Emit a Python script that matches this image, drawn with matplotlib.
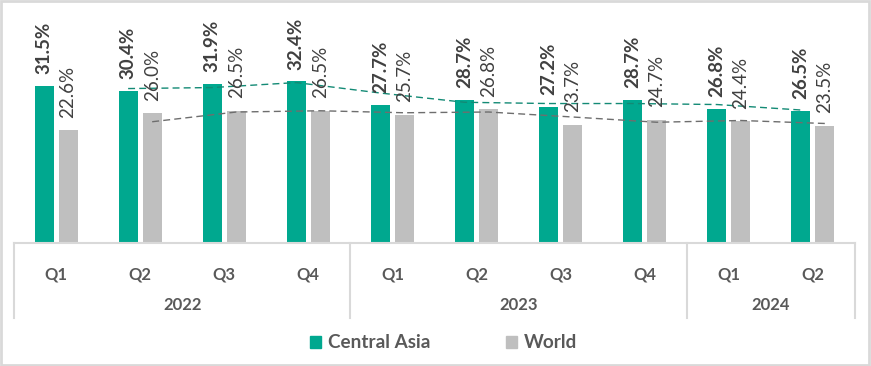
import numpy as np
import matplotlib.pyplot as plt
from matplotlib.patches import Rectangle, Patch
from matplotlib.transforms import blended_transform_factory

plt.rcParams['font.family'] = ['Lato', 'DejaVu Sans']

quarters = ['Q1', 'Q2', 'Q3', 'Q4', 'Q1', 'Q2', 'Q3', 'Q4', 'Q1', 'Q2']
years = ['2022', '2023', '2024']
year_spans = [(0, 3), (4, 7), (8, 9)]
central_asia = [31.5, 30.4, 31.9, 32.4, 27.7, 28.7, 27.2, 28.7, 26.8, 26.5]
world = [22.6, 26.0, 26.5, 26.5, 25.7, 26.8, 23.7, 24.7, 24.4, 23.5]

green = '#00A88F'
grey = '#BFBFBF'
txt = '#404040'
axis_col = '#D9D9D9'

W, H = 871, 366
fig = plt.figure(figsize=(W / 100, H / 100), dpi=100)
ax = fig.add_axes([14 / W, (H - 243) / H, (855 - 14) / W, (243 - 5) / H])

x = np.arange(len(quarters))
bw = 0.226
off = 0.143
ca = np.array(central_asia)
wo = np.array(world)

ax.bar(x - off, ca, bw, color=green, zorder=2)
ax.bar(x + off, wo, bw, color=grey, zorder=2)

# 2-period moving average trendlines
ax.plot(x[1:] - off, (ca[1:] + ca[:-1]) / 2, color='#138A75', lw=1,
        ls=(0, (5, 3)), zorder=3)
ax.plot(x[1:] + off, (wo[1:] + wo[:-1]) / 2, color='#6E6E6E', lw=1,
        ls=(0, (5, 3)), zorder=3)

for xi, v in zip(x, ca):
    ax.annotate(f'{v:.1f}%', (xi - off, v), xytext=(0, 8.5), textcoords='offset points',
                rotation=90, ha='center', va='bottom', fontsize=13.5,
                fontweight='bold', color=txt, zorder=4)
for xi, v in zip(x, wo):
    ax.annotate(f'{v:.1f}%', (xi + off, v), xytext=(0, 9), textcoords='offset points',
                rotation=90, ha='center', va='bottom', fontsize=13.5,
                color=txt, zorder=4)

ax.set_xlim(-0.5, len(quarters) - 0.5)
ax.set_ylim(0, 238 / 4.99)
ax.set_yticks([])
ax.set_xticks(x)
ax.set_xticklabels(quarters, fontsize=12, fontweight='bold', color='#595959')
ax.tick_params(axis='x', length=0, pad=17)
for s in ['top', 'right', 'left']:
    ax.spines[s].set_visible(False)
ax.spines['bottom'].set_color(axis_col)
ax.spines['bottom'].set_linewidth(1.5)

trans = blended_transform_factory(ax.transData, ax.transAxes)
sep_bottom = -(318 - 243) / 238
for b in [-0.5, 3.5, 7.5, 9.5]:
    ax.plot([b, b], [0, sep_bottom], color=axis_col, lw=1.5, transform=trans,
            clip_on=False)
for yr, (a, b) in zip(years, year_spans):
    ax.text((a + b) / 2, -(305 - 243) / 238, yr, transform=trans, ha='center',
            va='center', fontsize=12, fontweight='bold', color='#595959')

handles = [Patch(color=green, label='Central Asia'), Patch(color=grey, label='World')]
fig.legend(handles=handles, loc='center', bbox_to_anchor=(0.509, (H - 343) / H),
           ncol=2, frameon=False, handlelength=0.6, handleheight=0.6,
           handletextpad=0.35, columnspacing=4.0,
           prop={'size': 13.6, 'weight': 'bold'}, labelcolor='#595959')

fig.patches.append(Rectangle((0.001, 0.002), 0.997, 0.995, transform=fig.transFigure,
                             fill=False, edgecolor=axis_col, lw=2))

fig.savefig('out.png', dpi=100)
